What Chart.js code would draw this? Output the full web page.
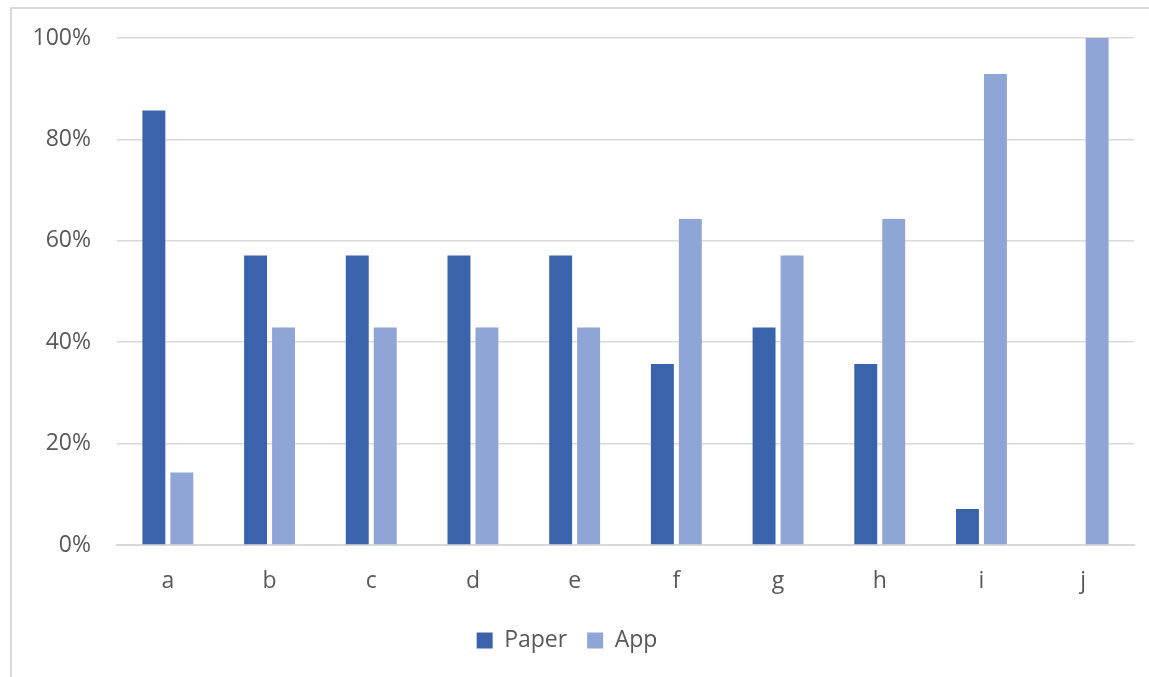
<!DOCTYPE html>
<html>
<head>
<meta charset="utf-8">
<script src="https://cdn.jsdelivr.net/npm/chart.js@4"></script>
<style>
  html, body { margin: 0; padding: 0; background: #fff; }
  #wrap { position: relative; width: 1149px; height: 677px; overflow: hidden; }
  #frame { position: absolute; left: 10px; top: 7px; width: 1160px; height: 700px; border: 2px solid #d9d9d9; box-sizing: border-box; }
  canvas { position: absolute; left: 0; top: 0; }
</style>
</head>
<body>
<div id="wrap">
  <div id="frame"></div>
  <canvas id="myChart" width="1149" height="677"></canvas>
</div>
<script>
// Share of answers per question, paper vs app

const categories = ["a", "b", "c", "d", "e", "f", "g", "h", "i", "j"];
const paperValues = [85.7, 57.1, 57.1, 57.1, 57.1, 35.7, 42.9, 35.7, 7.1, 0];
const appValues = [14.3, 42.9, 42.9, 42.9, 42.9, 64.3, 57.1, 64.3, 92.9, 100];
const yTicks = [0, 20, 40, 60, 80, 100];

const textColor = "#595959";
const gridColor = "#d9d9d9";
const font = { family: "'Open Sans', 'Liberation Sans', sans-serif", size: 23 };

drawChart();

function drawChart() {
    const ctx = document.getElementById("myChart");

    new Chart(ctx, {
        type: "bar",
        data: {
            labels: categories,
            datasets: [
                {
                    label: "Paper",
                    data: paperValues,
                    backgroundColor: "#3b63ab",
                    categoryPercentage: 0.55,
                    barPercentage: 0.82,
                },
                {
                    label: "App",
                    data: appValues,
                    backgroundColor: "#8fa5d5",
                    categoryPercentage: 0.55,
                    barPercentage: 0.82,
                },
            ],
        },
        options: {
            responsive: false,
            animation: false,
            layout: {
                padding: { left: 0, right: 15, top: 38, bottom: 15 }
            },
            plugins: {
                tooltip: { enabled: false },
                legend: {
                    position: "bottom",
                    labels: {
                        color: textColor,
                        font: font,
                        boxWidth: 16,
                        boxHeight: 16,
                        padding: 20,
                    }
                }
            },
            scales: {
                x: {
                    afterFit: function(scale) { scale.height = 64; },
                    grid: { display: false, drawTicks: false },
                    border: { color: gridColor, width: 2 },
                    ticks: { color: textColor, font: font, padding: 23 },
                },
                y: {
                    min: 0,
                    max: 100,
                    afterFit: function(scale) {
                        scale.width = 117;
                        scale.paddingTop = 0;
                        scale.paddingBottom = 0;
                    },
                    afterBuildTicks: function(scale) {
                        scale.ticks = yTicks.map(v => ({ value: v }));
                    },
                    grid: { color: gridColor, lineWidth: 1.5, drawTicks: false },
                    border: { display: false },
                    ticks: {
                        color: textColor,
                        font: font,
                        padding: 26,
                        callback: function(value) {
                            return value + "%";
                        }
                    }
                }
            }
        }
    });
}
</script>
</body>
</html>
